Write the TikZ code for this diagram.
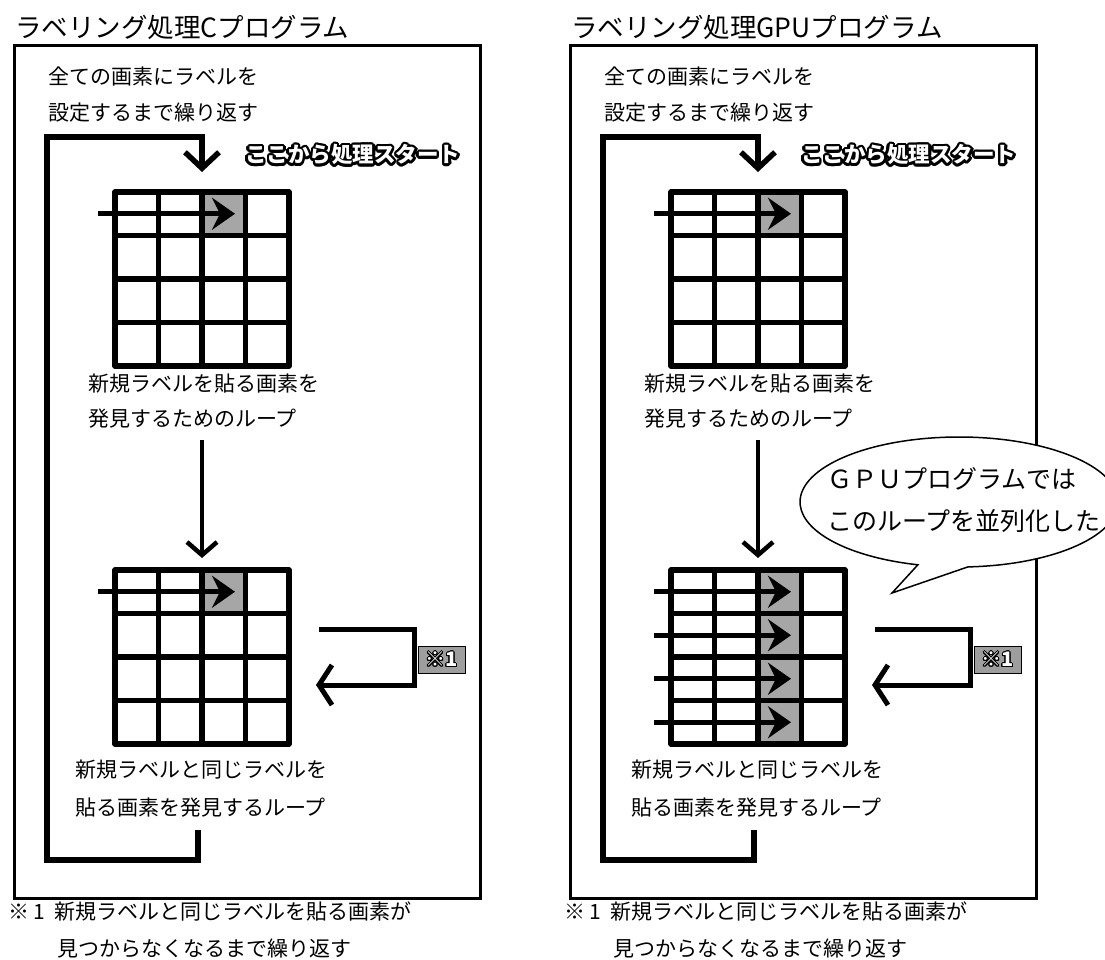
\documentclass[tikz,border=0pt]{standalone}
\usepackage{fontspec}
\setmainfont{Noto Sans CJK JP}
\usetikzlibrary{arrows.meta}
\definecolor{cellgray}{HTML}{A6A6A6}
\definecolor{notegray}{HTML}{9E9E9E}
\newcommand\outltext[3]{%
  \foreach \oa in {0,22.5,...,337.5}{%
    \pgfmathsetlengthmacro\odx{#1*cos(\oa)}%
    \pgfmathsetlengthmacro\ody{#1*sin(\oa)}%
    \rlap{\kern\odx\raisebox{\ody}{\textcolor{black}{#3}}}%
  }%
  \textcolor{#2}{#3}%
}
\begin{document}
\begin{tikzpicture}[x=1pt,y=-1pt,
  title/.style={font=\fontsize{26.5}{30}\selectfont,inner sep=0pt,anchor=base west},
  body/.style={font=\fontsize{21}{36}\selectfont,inner sep=0pt,align=left,anchor=base west},
  frame/.style={draw,line width=3pt,inner sep=0pt,outer sep=0pt,anchor=north west,minimum width=466pt,minimum height=852pt},
  gridbox/.style={inner sep=0pt,outer sep=0pt,minimum size=174pt},
  gline/.style={line width=5.5pt,line join=round},
  garrow/.style={line width=5pt,-{Stealth[length=23pt,width=32pt,inset=8pt]}},
  bigloop/.style={line width=5.5pt,-{Straight Barb[length=16pt,width=34pt]}},
  darrow/.style={line width=4.5pt,-{Straight Barb[length=13pt,width=30pt]}},
  rloop/.style={line width=5pt,-{Straight Barb[length=13pt,width=40pt]}},
  notebox/.style={draw,line width=1pt,fill=notegray,minimum width=47pt,minimum height=27pt,inner sep=0pt,font=\fontsize{20}{22}\selectfont\bfseries},
  startlbl/.style={font=\fontsize{21.5}{24}\selectfont\bfseries,inner sep=0pt,anchor=base west},
  bubble/.style={draw,fill=white,line width=1.5pt},
  bubbletext/.style={font=\fontsize{25}{42}\selectfont,inner sep=0pt,align=left,anchor=base west}
]
\path[use as bounding box] (0,0) rectangle (1105,960);
\clip (0,0) rectangle (1105,960);
\fill[white] (0,0) rectangle (1105,960);

\foreach \p/\o/\ttl in {L/0/ラベリング処理Cプログラム,R/556/ラベリング処理GPUプログラム}{
\begin{scope}[xshift=\o pt]
  \node[title] (title\p) at (15,38) {\ttl};
  \node[frame] (box\p) at (14,46) {};
  \node[body] (intro\p) at (48,121) {全ての画素にラベルを\\設定するまで繰り返す};
  \node[startlbl] (start\p) at (245,163) {\outltext{2.6pt}{white}{ここから処理スタート}};
  \node[gridbox] (ga\p) at (202,279) {};
  \node[gridbox] (gb\p) at (202,657) {};
  \node[body,font=\fontsize{21}{35}\selectfont] (find\p) at (88,426) {新規ラベルを貼る画素を\\発見するためのループ};
  \node[body,font=\fontsize{21}{38}\selectfont] (same\p) at (75,815) {新規ラベルと同じラベルを\\貼る画素を発見するループ};
  \node[body,font=\fontsize{21}{37}\selectfont] (foot\p) at (8,956) {※\kern4pt1\hspace{10pt}新規ラベルと同じラベルを貼る画素が\\\hspace*{49pt}見つからなくなるまで繰り返す};
  \fill[cellgray] (ga\p.north west) ++(87,0) rectangle ++(43.5,43.5);
  \if\p R
    \fill[cellgray] (gb\p.north west) ++(87,0) rectangle ++(43.5,174);
    \def\nr{3}
  \else
    \fill[cellgray] (gb\p.north west) ++(87,0) rectangle ++(43.5,43.5);
    \def\nr{0}
  \fi
  \foreach \g in {ga\p,gb\p}{
    \foreach \k in {1,2,3}{
      \draw[gline] (\g.north west) ++(43.5*\k,0) -- ++(0,174);
      \draw[gline] (\g.north west) ++(0,43.5*\k) -- ++(174,0);
    }
    \draw[gline] (\g.north west) rectangle (\g.south east);
  }
  \draw[garrow] (ga\p.north west) ++(-17,21.75) -- ++(137,0);
  \foreach \r in {0,...,\nr}{
    \draw[garrow] (gb\p.north west) ++(-17,21.75+43.5*\r) -- ++(137,0);
  }
  \coordinate (ls\p) at (198,830);
  \coordinate (le\p) at (202,172);
  \draw[bigloop] (ls\p) -- (198,860) -- (47,860) -- (47,137) -- (202,137) -- (le\p);
  \coordinate (ds\p) at (202,440);
  \coordinate (de\p) at (202,558);
  \draw[darrow] (ds\p) -- (de\p);
  \coordinate (rs\p) at (319,629);
  \coordinate (re\p) at (316,685);
  \draw[rloop] (rs\p) -- (414,629) -- (414,685) -- (re\p);
  \node[notebox] (note\p) at (441.5,659.5) {\outltext{1pt}{white}{※1}};
\end{scope}
}

\draw[bubble] (967.9,566.9) arc[start angle=-86.8,end angle=255,x radius=159pt,y radius=65pt] -- (892,593) -- cycle;
\node[bubbletext] (bubtxt) at (827,530.5) {ＧＰＵプログラムでは\\このループを並列化した};
\end{tikzpicture}
\end{document}
